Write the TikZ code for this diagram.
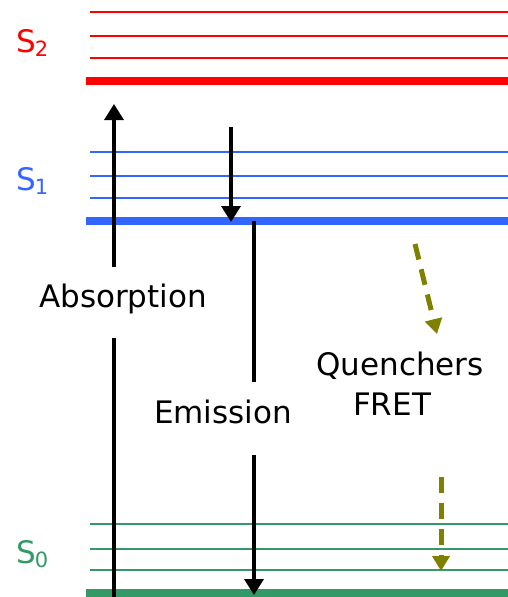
\documentclass[tikz,border=0pt]{standalone}
\usepackage{fontspec}
\setmainfont{DejaVu Sans}
\usetikzlibrary{arrows.meta}
\definecolor{sred}{RGB}{255,0,0}
\definecolor{sblue}{RGB}{51,102,255}
\definecolor{sgreen}{RGB}{51,153,102}
\definecolor{solive}{RGB}{128,128,0}
\begin{document}
\begin{tikzpicture}[x=1pt,y=-1pt,
  thinlvl/.style={line width=2pt},
  thicklvl/.style={line width=7.5pt},
  lbl/.style={inner sep=0pt, font=\fontsize{31}{40}\selectfont},
  arr/.style={line width=3.5pt, draw=black},
  arrtip/.style={-{Triangle[width=19pt,length=16pt]}},
  quench/.style={draw=solive, line width=5pt, dash pattern=on 16pt off 10pt, -{Triangle[width=17pt,length=15pt]}},
]
\useasboundingbox (0,0) rectangle (508,597);
% S2 levels
\foreach \y in {12,36,58} \draw[sred,thinlvl] (90,\y) -- (508,\y);
\draw[sred,thicklvl] (86,81) -- (508,81);
% S1 levels
\foreach \y in {152,176,198} \draw[sblue,thinlvl] (90,\y) -- (508,\y);
\draw[sblue,thicklvl] (86,221) -- (508,221);
% S0 levels
\foreach \y in {524,549,570} \draw[sgreen,thinlvl] (90,\y) -- (508,\y);
\draw[sgreen,thicklvl] (86,593) -- (508,593);
% state labels
\node[lbl, anchor=base west, text=sred] (s2) at (16,52) {S\kern-1pt\raisebox{-4pt}{\fontsize{21}{21}\selectfont 2}};
\node[lbl, anchor=base west, text=sblue] (s1) at (16,190) {S\kern-1pt\raisebox{-4pt}{\fontsize{21}{21}\selectfont 1}};
\node[lbl, anchor=base west, text=sgreen] (s0) at (16,563) {S\kern-1pt\raisebox{-4pt}{\fontsize{21}{21}\selectfont 0}};
% text labels
\node[lbl, anchor=base west] (absorption) at (39,307) {Absorption};
\node[lbl, anchor=base west] (emission) at (154,423) {Emission};
\node[lbl, anchor=base] (quenchers) at (400,375) {Quenchers};
\node[lbl, anchor=base] (fret) at (392,415) {FRET};
% arrow coordinates
\coordinate (abot) at (114,597);
\coordinate (a2) at (114,338);
\coordinate (a1) at (114,267);
\coordinate (atop) at (114,104);
\coordinate (etop) at (254,221);
\coordinate (e1) at (254,382);
\coordinate (e2) at (254,455);
\coordinate (ebot) at (254,595);
\coordinate (rtop) at (231,127);
\coordinate (rbot) at (231,222);
\coordinate (q1s) at (415,244);
\coordinate (q1e) at (437,334);
\coordinate (q2s) at (441,477);
\coordinate (q2e) at (441,571);
% absorption
\draw[arr] (abot) -- (a2);
\draw[arr,arrtip] (a1) -- (atop);
% emission
\draw[arr] (etop) -- (e1);
\draw[arr,arrtip] (e2) -- (ebot);
% vibrational relaxation
\draw[arr,arrtip] (rtop) -- (rbot);
% quenching
\draw[quench] (q1s) -- (q1e);
\draw[quench] (q2s) -- (q2e);
\end{tikzpicture}
\end{document}
